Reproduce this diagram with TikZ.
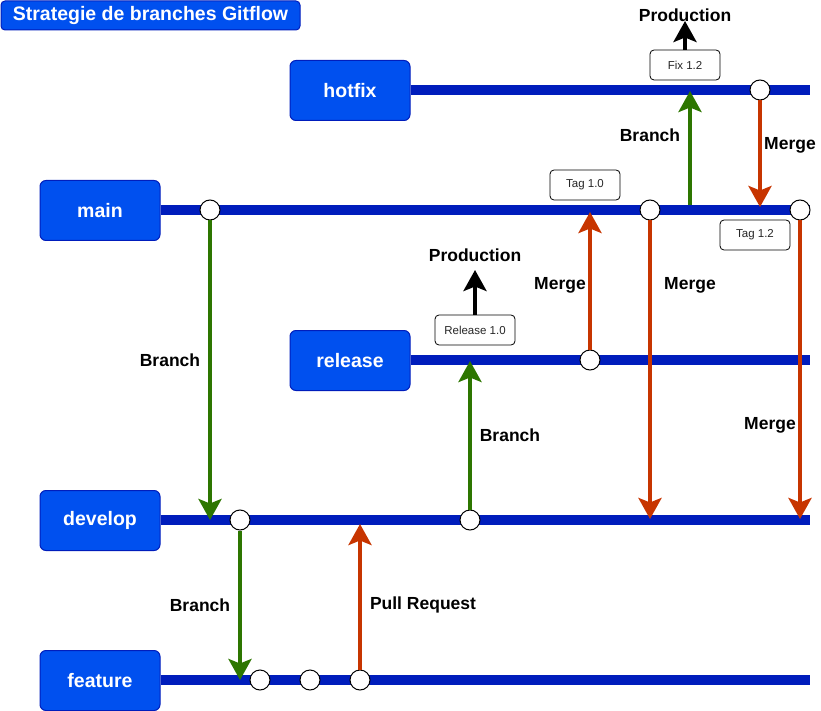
\documentclass[tikz,border=0pt]{standalone}
\usepackage{fontspec}
\setmainfont{Liberation Sans}
\usetikzlibrary{arrows.meta}
\definecolor{bfill}{HTML}{0050EF}
\definecolor{bline}{HTML}{001DBC}
\definecolor{garr}{HTML}{2D7600}
\definecolor{rarr}{HTML}{C73500}
\begin{document}
\begin{tikzpicture}[x=1pt,y=-1pt,
  branchbox/.style={rectangle, rounded corners=6pt, fill=bfill, draw=bline, line width=1pt,
    minimum width=120pt, minimum height=60pt, text=white, inner sep=0pt,
    font=\bfseries\fontsize{19.5}{23}\selectfont},
  titlebox/.style={rectangle, rounded corners=4pt, fill=bfill, draw=bline, line width=1pt,
    minimum width=299pt, minimum height=29pt, text=white, inner sep=0pt,
    font=\bfseries\fontsize{19.5}{23}\selectfont},
  lane/.style={draw=bline, line width=10pt},
  commit/.style={circle, draw=black, fill=white, line width=1pt, minimum size=20pt, inner sep=0pt},
  tagbox/.style={rectangle, rounded corners=4pt, draw=black, fill=white, line width=0.8pt,
    minimum width=70pt, minimum height=30pt, inner sep=0pt, text=black!85,
    font=\fontsize{11.5}{13}\selectfont},
  tip/.style={-{Stealth[length=21pt,width=23pt,inset=4.5pt]}},
  garrow/.style={draw=garr, line width=4pt, tip},
  rarrow/.style={draw=rarr, line width=4pt, tip},
  karrow/.style={draw=black, line width=4pt, tip},
  lbl/.style={inner sep=0pt, font=\bfseries\fontsize{17.5}{20}\selectfont}
]
\useasboundingbox (0,0) rectangle (821,711);

\node[titlebox] (title) at (150.5,15.5) {Strategie de branches Gitflow};

% branch boxes
\node[branchbox] (hotfix)  at (350,90.5)  {hotfix};
\node[branchbox] (main)    at (100,210.5) {main};
\node[branchbox] (release) at (350,360.5) {release};
\node[branchbox] (develop) at (100,520.5) {develop};
\node[branchbox] (feature) at (100,680.5) {feature};

% lane ends
\coordinate (hotfixEnd)  at (810,90);
\coordinate (mainEnd)    at (810,210);
\coordinate (releaseEnd) at (810,360);
\coordinate (developEnd) at (810,520);
\coordinate (featureEnd) at (810,680);

\draw[lane] (hotfix.east |- hotfixEnd)  -- (hotfixEnd);
\draw[lane] (main.east |- mainEnd)    -- (mainEnd);
\draw[lane] (release.east |- releaseEnd) -- (releaseEnd);
\draw[lane] (develop.east |- developEnd) -- (developEnd);
\draw[lane] (feature.east |- featureEnd) -- (featureEnd);

% commits
\node[commit] (cm1) at (210,210) {};
\node[commit] (cm2) at (650,210) {};
\node[commit] (cm3) at (800,210) {};
\node[commit] (ch1) at (760,90)  {};
\node[commit] (cr1) at (590,360) {};
\node[commit] (cd1) at (240,520) {};
\node[commit] (cd2) at (470,520) {};
\node[commit] (cf1) at (260,680) {};
\node[commit] (cf2) at (310,680) {};
\node[commit] (cf3) at (360,680) {};

% tags
\node[tagbox] (tag10) at (585,185) {Tag 1.0};
\node[tagbox] (tag12) at (755,235) {Tag 1.2};
\node[tagbox, minimum width=80pt] (rel10) at (475,330) {Release 1.0};
\node[tagbox] (fix12) at (685,65) {Fix 1.2};

% arrow end points
\coordinate (a1) at (210,520);
\coordinate (a2) at (240,680);
\coordinate (a3) at (360,524);
\coordinate (a4) at (470,361);
\coordinate (a5) at (590,212);
\coordinate (a6) at (650,519);
\coordinate (a7s) at (690,205);
\coordinate (a7) at (690,91);
\coordinate (a8) at (760,207);
\coordinate (a9) at (800,519);
\coordinate (p1) at (475,270);
\coordinate (p2) at (685,21);

\draw[garrow] (cm1.south) -- (a1);
\draw[garrow] (cd1.south) -- (a2);
\draw[rarrow] (cf3.north) -- (a3);
\draw[garrow] (cd2.north) -- (a4);
\draw[rarrow] (cr1.north) -- (a5);
\draw[rarrow] (cm2.south) -- (a6);
\draw[garrow] (a7s) -- (a7);
\draw[rarrow] (ch1.south) -- (a8);
\draw[rarrow] (cm3.south) -- (a9);
\draw[karrow] (rel10.north) -- (p1);
\draw[karrow] (fix12.north) -- (p2);

% labels
\node[lbl] (l1) at (170,360) {Branch};
\node[lbl] (l2) at (200,605) {Branch};
\node[lbl] (l3) at (423,605) {Pull Request};
\node[lbl] (l4) at (510,435) {Branch};
\node[lbl] (l5) at (560,285) {Merge};
\node[lbl] (l6) at (690,285) {Merge};
\node[lbl] (l7) at (650,135) {Branch};
\node[lbl] (l8) at (790,145) {Merge};
\node[lbl] (l9) at (770,425) {Merge};
\node[lbl] (l10) at (475,255) {Production};
\node[lbl] (l11) at (685,15) {Production};
\end{tikzpicture}
\end{document}
